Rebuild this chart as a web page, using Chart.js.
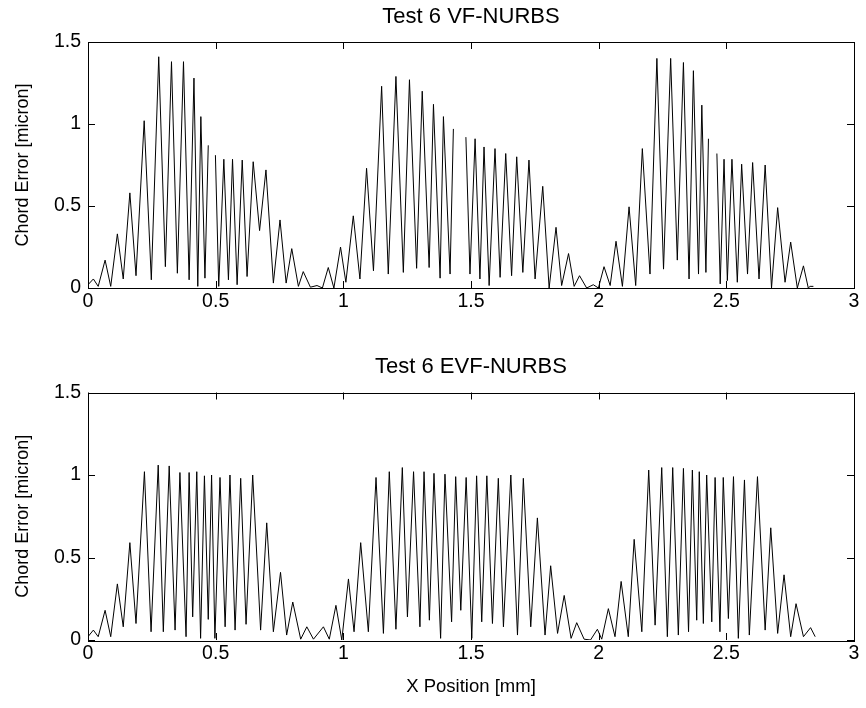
<!DOCTYPE html>
<html>
<head>
<meta charset="utf-8">
<script src="https://cdn.jsdelivr.net/npm/chart.js@4.4.1/dist/chart.umd.min.js"></script>
<style>
  body { margin: 0; background: #fff; }
  canvas { position: absolute; left: 0; }
  #top { top: 0; }
  #bottom { top: 340px; }
</style>
</head>
<body>
<canvas id="top" width="866" height="340"></canvas>
<canvas id="bottom" width="866" height="368"></canvas>
<script>
// x ticks / y ticks
const xTicks = [0, 0.5, 1, 1.5, 2, 2.5, 3];
const yTicks = [0, 0.5, 1, 1.5];

// Test 6 VF-NURBS (null = break in the trace)
const vfX = [0.000, 0.021, 0.040, 0.067, 0.089, 0.115, 0.138, 0.164, 0.188, 0.220,
  0.248, 0.277, 0.303, 0.327, 0.350, 0.374, 0.396, 0.415, 0.430, 0.442,
  0.458, 0.471, 0.485, 0.499, 0.512, 0.532, 0.550, 0.566, 0.584, 0.604,
  0.623, 0.647, 0.672, 0.697, 0.726, 0.752, 0.776, 0.798, 0.824, 0.843,
  0.871, 0.897, 0.918, 0.941, 0.963, 0.989, 1.010, 1.039, 1.065, 1.091,
  1.118, 1.150, 1.176, 1.206, 1.235, 1.259, 1.287, 1.309, 1.336, 1.353,
  1.379, 1.392, 1.418, 1.431, 1.455, 1.480, 1.496, 1.516, 1.535, 1.551,
  1.571, 1.594, 1.614, 1.636, 1.659, 1.679, 1.703, 1.727, 1.751, 1.781,
  1.806, 1.833, 1.855, 1.882, 1.904, 1.925, 1.953, 1.979, 1.999, 2.021,
  2.045, 2.068, 2.093, 2.119, 2.145, 2.171, 2.201, 2.228, 2.254, 2.282,
  2.308, 2.332, 2.354, 2.371, 2.391, 2.404, 2.420, 2.430, 2.447, 2.463,
  2.476, 2.491, 2.504, 2.522, 2.543, 2.560, 2.583, 2.603, 2.628, 2.652,
  2.677, 2.701, 2.730, 2.752, 2.778, 2.802, 2.821, 2.828, 2.841];
const vfY = [0.02, 0.055, 0.01, 0.17, 0.01, 0.33, 0.055, 0.58, 0.075, 1.02,
  0.05, 1.41, 0.13, 1.38, 0.09, 1.38, 0.05, 1.28, 0.01, 1.045,
  0.06, 0.87, null, 0.81, 0.01, 0.785, 0.05, 0.785, 0.02, 0.78,
  0.07, 0.77, 0.35, 0.72, 0.03, 0.415, 0.03, 0.24, 0.01, 0.10,
  0.005, 0.015, 0.0, 0.125, 0.0, 0.25, 0.035, 0.44, 0.055, 0.73,
  0.105, 1.23, 0.085, 1.29, 0.095, 1.27, 0.12, 1.20, 0.125, 1.12,
  0.06, 1.045, 0.085, 0.97, null, 0.92, 0.085, 0.91, 0.055, 0.86,
  0.015, 0.85, 0.065, 0.82, 0.075, 0.80, 0.095, 0.78, 0.055, 0.62,
  0.0, 0.37, 0.015, 0.21, 0.01, 0.075, 0.0, 0.02, 0.0, 0.13,
  0.015, 0.285, 0.01, 0.495, 0.015, 0.85, 0.085, 1.40, 0.115, 1.40,
  0.17, 1.375, 0.055, 1.325, 0.085, 1.115, 0.095, 0.91, null, 0.82,
  0.025, 0.785, 0.045, 0.785, 0.035, 0.755, 0.085, 0.765, 0.055, 0.75,
  0.0, 0.49, 0.035, 0.28, 0.0, 0.135, 0.0, 0.01, 0.01];

// Test 6 EVF-NURBS
const evfX = [0.000, 0.021, 0.040, 0.067, 0.089, 0.115, 0.138, 0.164, 0.188, 0.221,
  0.247, 0.275, 0.295, 0.318, 0.341, 0.360, 0.384, 0.396, 0.410, 0.426,
  0.441, 0.456, 0.471, 0.484, 0.497, 0.517, 0.537, 0.556, 0.576, 0.598,
  0.619, 0.645, 0.676, 0.700, 0.726, 0.754, 0.778, 0.802, 0.833, 0.857,
  0.883, 0.922, 0.945, 0.971, 0.994, 1.020, 1.042, 1.068, 1.098, 1.128,
  1.157, 1.180, 1.206, 1.231, 1.251, 1.275, 1.300, 1.316, 1.337, 1.355,
  1.381, 1.398, 1.424, 1.440, 1.460, 1.481, 1.503, 1.522, 1.542, 1.562,
  1.584, 1.607, 1.627, 1.656, 1.682, 1.705, 1.734, 1.760, 1.790, 1.812,
  1.839, 1.865, 1.892, 1.914, 1.943, 1.968, 1.995, 2.012, 2.038, 2.064,
  2.088, 2.116, 2.139, 2.169, 2.196, 2.221, 2.247, 2.269, 2.290, 2.312,
  2.332, 2.352, 2.367, 2.384, 2.394, 2.410, 2.423, 2.443, 2.456, 2.475,
  2.488, 2.508, 2.528, 2.547, 2.571, 2.590, 2.622, 2.652, 2.674, 2.701,
  2.726, 2.752, 2.773, 2.802, 2.830, 2.848];
const evfY = [0.02, 0.06, 0.02, 0.18, 0.02, 0.34, 0.08, 0.59, 0.10, 1.02,
  0.05, 1.06, 0.05, 1.055, 0.06, 1.015, 0.02, 1.015, 0.14, 1.02,
  0.01, 0.995, 0.125, 1.0, 0.01, 0.985, 0.08, 1.0, 0.06, 0.98,
  0.095, 1.0, 0.06, 0.71, 0.05, 0.41, 0.03, 0.23, 0.005, 0.08,
  0.005, 0.08, 0.005, 0.21, 0.0, 0.37, 0.05, 0.59, 0.05, 0.985,
  0.04, 1.02, 0.065, 1.045, 0.14, 1.02, 0.08, 1.02, 0.12, 1.01,
  0.01, 1.005, 0.11, 0.99, 0.18, 0.985, 0.01, 0.995, 0.11, 0.995,
  0.10, 0.98, 0.08, 1.0, 0.03, 0.98, 0.08, 0.74, 0.03, 0.45,
  0.04, 0.27, 0.01, 0.105, 0.005, 0.0, 0.065, 0.005, 0.19, 0.02,
  0.355, 0.02, 0.61, 0.05, 1.03, 0.09, 1.045, 0.02, 1.045, 0.03,
  1.04, 0.05, 1.03, 0.12, 1.02, 0.10, 1.0, 0.11, 0.985, 0.05,
  0.985, 0.13, 0.99, 0.01, 0.97, 0.03, 0.99, 0.06, 0.68, 0.04,
  0.395, 0.02, 0.22, 0.02, 0.075, 0.02];

const FONT = "'Liberation Sans', Arial, Helvetica, sans-serif";
const TICK = 7;

// MATLAB-style box with inward ticks on all four sides
const boxTicks = {
  id: 'boxTicks',
  afterDraw(chart) {
    const { ctx, chartArea: a, scales } = chart;
    ctx.save();
    ctx.strokeStyle = '#000';
    ctx.lineWidth = 1;
    ctx.beginPath();
    xTicks.forEach(v => {
      const px = Math.round(scales.x.getPixelForValue(v)) + 0.5;
      ctx.moveTo(px, a.bottom); ctx.lineTo(px, a.bottom - TICK);
      ctx.moveTo(px, a.top); ctx.lineTo(px, a.top + TICK);
    });
    yTicks.forEach(v => {
      const py = Math.round(scales.y.getPixelForValue(v)) + 0.5;
      ctx.moveTo(a.left, py); ctx.lineTo(a.left + TICK, py);
      ctx.moveTo(a.right, py); ctx.lineTo(a.right - TICK, py);
    });
    ctx.stroke();
    ctx.strokeRect(Math.round(a.left) + 0.5, Math.round(a.top) + 0.5,
      Math.round(a.right - a.left), Math.round(a.bottom - a.top));
    ctx.restore();
  }
};

function makeChart(id, xs, ys, title, titlePad, xHeight, xTitle) {
  return new Chart(document.getElementById(id), {
    type: 'line',
    data: {
      datasets: [{
        data: xs.map((x, i) => ({ x: x, y: ys[i] })),
        borderColor: '#000',
        borderWidth: 1,
        pointRadius: 0,
        tension: 0,
        spanGaps: false
      }]
    },
    options: {
      responsive: false,
      animation: false,
      layout: { padding: { left: 0, right: 12, top: 0, bottom: 0 } },
      plugins: {
        legend: { display: false },
        tooltip: { enabled: false },
        title: {
          display: true,
          fullSize: false,
          text: title,
          color: '#000',
          font: { family: FONT, size: 22, weight: 'normal' },
          padding: titlePad
        }
      },
      scales: {
        x: {
          type: 'linear',
          min: 0,
          max: 3,
          afterBuildTicks: s => { s.ticks = xTicks.map(v => ({ value: v })); },
          afterFit: s => { s.height = xHeight; },
          grid: { display: false, drawTicks: false },
          border: { display: false },
          ticks: {
            color: '#000', padding: 2, maxRotation: 0,
            font: { family: FONT, size: 19.5 },
            callback: v => String(v)
          },
          title: {
            display: !!xTitle,
            text: xTitle || '',
            color: '#000',
            font: { family: FONT, size: 18.5 },
            padding: { top: 0, bottom: 10 }
          }
        },
        y: {
          min: 0,
          max: 1.5,
          afterBuildTicks: s => { s.ticks = yTicks.map(v => ({ value: v })); },
          afterFit: s => { s.width = 88; },
          grid: { display: false, drawTicks: false },
          border: { display: false },
          ticks: {
            color: '#000', padding: 7,
            font: { family: FONT, size: 19.5 },
            callback: v => String(v)
          },
          title: {
            display: true,
            text: 'Chord Error [micron]',
            color: '#000',
            font: { family: FONT, size: 18 },
            padding: { top: 12, bottom: 0 }
          }
        }
      }
    },
    plugins: [boxTicks]
  });
}

makeChart('top', vfX, vfY, 'Test 6 VF-NURBS', { top: 3.8, bottom: 11.8 }, 52, null);
makeChart('bottom', evfX, evfY, 'Test 6 EVF-NURBS', { top: 13.8, bottom: 12.3 }, 68, 'X Position [mm]');
</script>
</body>
</html>
